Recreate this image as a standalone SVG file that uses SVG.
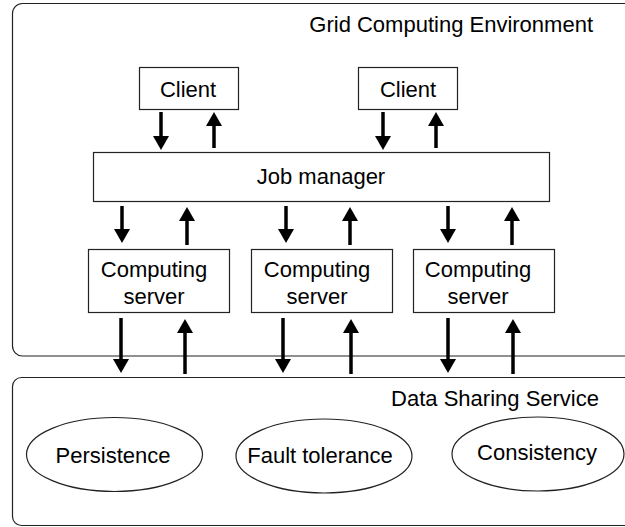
<svg xmlns="http://www.w3.org/2000/svg" width="625" height="527" viewBox="0 0 625 527">
<defs>
<style>
.box{fill:#fff;stroke:#222;stroke-width:1.2}
.area{fill:#fff;stroke:#222;stroke-width:1.2}
.t{font-family:"Liberation Sans",Arial,sans-serif;font-size:22px;fill:#000;text-anchor:middle}
.tr{font-family:"Liberation Sans",Arial,sans-serif;font-size:22px;fill:#000;text-anchor:end}
.arr{stroke:#000;stroke-width:3.5;fill:none;marker-end:url(#ah)}
</style>
<marker id="ah" viewBox="0 0 14 16" refX="1" refY="8" markerWidth="14" markerHeight="16" markerUnits="userSpaceOnUse" orient="auto">
<path d="M0,0 L14,8 L0,16 z" fill="#000"/>
</marker>
</defs>
<g id="grid-env">
<rect class="area" x="12.5" y="3.5" width="640" height="352.5" rx="10"/>
<text class="tr" x="593" y="32">Grid Computing Environment</text>
</g>
<g id="data-sharing">
<rect class="area" x="12.5" y="377.5" width="640" height="148" rx="9"/>
<text class="tr" x="599" y="406">Data Sharing Service</text>
</g>
<g id="client1">
<rect class="box" x="139.5" y="67.5" width="99" height="42"/>
<text class="t" x="188" y="97">Client</text>
</g>
<g id="client2">
<rect class="box" x="358.5" y="67.5" width="99" height="42"/>
<text class="t" x="408" y="97">Client</text>
</g>
<g id="job-manager">
<rect class="box" x="93.5" y="152.5" width="456" height="49"/>
<text class="t" x="321" y="184">Job manager</text>
</g>
<g id="server1">
<rect class="box" x="88.5" y="249.5" width="141" height="63"/>
<text class="t" x="154" y="277">Computing</text>
<text class="t" x="154" y="304">server</text>
</g>
<g id="server2">
<rect class="box" x="251.5" y="249.5" width="141" height="63"/>
<text class="t" x="317" y="277">Computing</text>
<text class="t" x="317" y="304">server</text>
</g>
<g id="server3">
<rect class="box" x="413.5" y="249.5" width="141" height="63"/>
<text class="t" x="478" y="277">Computing</text>
<text class="t" x="478" y="304">server</text>
</g>
<g id="persistence">
<ellipse class="box" cx="114.5" cy="454.5" rx="88" ry="37"/>
<text class="t" x="113" y="463">Persistence</text>
</g>
<g id="fault-tolerance">
<ellipse class="box" cx="324" cy="456" rx="88" ry="37"/>
<text class="t" x="320" y="463">Fault tolerance</text>
</g>
<g id="consistency">
<ellipse class="box" cx="538" cy="454" rx="86" ry="37"/>
<text class="t" x="537" y="460">Consistency</text>
</g>
<g id="connectors">
<line class="arr" x1="161" y1="112" x2="161" y2="137"/>
<line class="arr" x1="214" y1="148" x2="214" y2="125"/>
<line class="arr" x1="383" y1="112" x2="383" y2="137"/>
<line class="arr" x1="436" y1="148" x2="436" y2="125"/>
<line class="arr" x1="122" y1="206" x2="122" y2="230"/>
<line class="arr" x1="187" y1="245" x2="187" y2="220"/>
<line class="arr" x1="286" y1="206" x2="286" y2="230"/>
<line class="arr" x1="350" y1="245" x2="350" y2="220"/>
<line class="arr" x1="448" y1="206" x2="448" y2="230"/>
<line class="arr" x1="512" y1="245" x2="512" y2="220"/>
<line class="arr" x1="121" y1="318" x2="121" y2="360"/>
<line class="arr" x1="185" y1="374" x2="185" y2="332"/>
<line class="arr" x1="283" y1="318" x2="283" y2="360"/>
<line class="arr" x1="351" y1="374" x2="351" y2="332"/>
<line class="arr" x1="448" y1="318" x2="448" y2="360"/>
<line class="arr" x1="513" y1="374" x2="513" y2="332"/>
</g>
</svg>
